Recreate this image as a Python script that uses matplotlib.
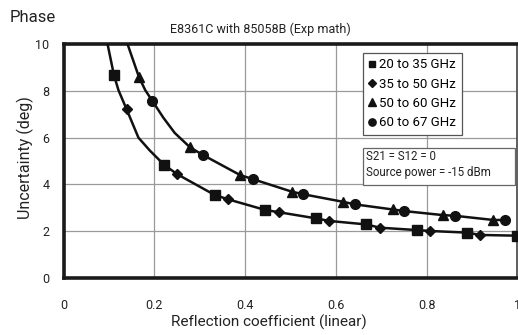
import matplotlib.pyplot as plt
from matplotlib.patches import Rectangle

plt.rcParams['font.family'] = ['Roboto', 'DejaVu Sans']

# markers
sq_x = [0.111, 0.222, 0.333, 0.444, 0.556, 0.667, 0.778, 0.889, 0.998]
sq_y = [8.68, 4.83, 3.55, 2.91, 2.55, 2.29, 2.05, 1.94, 1.81]
dm_x = [0.139, 0.251, 0.363, 0.475, 0.585, 0.697, 0.808, 0.918]
dm_y = [7.21, 4.43, 3.36, 2.81, 2.44, 2.15, 2.01, 1.84]
tr_x = [0.166, 0.279, 0.389, 0.503, 0.615, 0.725, 0.835, 0.947]
tr_y = [8.60, 5.58, 4.40, 3.69, 3.26, 2.93, 2.69, 2.48]
ci_x = [0.196, 0.307, 0.418, 0.528, 0.641, 0.751, 0.862, 0.972]
ci_y = [7.56, 5.26, 4.22, 3.58, 3.15, 2.86, 2.66, 2.48]

# extra points read along the steep part of the curves
low_x = [0.093, 0.097, 0.121, 0.165, 0.190]
low_y = [10.5, 10.0, 8.03, 6.0, 5.45]
up_x = [0.137, 0.141, 0.180, 0.220, 0.245]
up_y = [10.5, 10.0, 8.03, 6.85, 6.2]

labels = ['20 to 35 GHz', '35 to 50 GHz', '50 to 60 GHz', '60 to 67 GHz']
note = ['S21 = S12 = 0', 'Source power = -15 dBm']

fig = plt.figure(figsize=(5.18, 3.35), dpi=100)
ax = fig.add_axes([0.1226, 0.1701, 0.8764, 0.6985])

low = sorted(list(zip(sq_x, sq_y)) + list(zip(dm_x, dm_y)) + list(zip(low_x, low_y)))
up = sorted(list(zip(tr_x, tr_y)) + list(zip(ci_x, ci_y)) + list(zip(up_x, up_y)))
ax.plot(*zip(*low), color='#111111', lw=1.8, zorder=3, solid_joinstyle='round')
ax.plot(*zip(*up), color='#111111', lw=1.8, zorder=3, solid_joinstyle='round')

ax.plot(sq_x, sq_y, 's', color='#111111', ms=6.7, ls='', label=labels[0], zorder=4)
ax.plot(dm_x, dm_y, 'D', color='#111111', ms=5.2, ls='', label=labels[1], zorder=4)
ax.plot(tr_x, tr_y, '^', color='#111111', ms=7.2, ls='', label=labels[2], zorder=4)
ax.plot(ci_x, ci_y, 'o', color='#111111', ms=7, ls='', label=labels[3], zorder=4)

ax.set_xlim(0, 1)
ax.set_ylim(0, 10)
ax.set_xticks([0, 0.2, 0.4, 0.6, 0.8, 1])
ax.set_xticklabels(['0', '0.2', '0.4', '0.6', '0.8', '1'])
ax.set_yticks([0, 2, 4, 6, 8, 10])
ax.grid(True, color='#9a9a9a', lw=0.9)
ax.tick_params(length=0, labelsize=9, colors='#222222')
ax.tick_params(axis='x', pad=15)
ax.tick_params(axis='y', pad=10)
for s in ax.spines.values():
    s.set_linewidth(2.6)
    s.set_color('#1a1a1a')
ax.spines['right'].set_linewidth(1.2)
ax.spines['right'].set_color('#444444')

ax.set_xlabel('Reflection coefficient (linear)', fontsize=11, color='#222222', va='center')
ax.xaxis.set_label_coords(0.4526, -0.188)
ax.set_ylabel('Uncertainty (deg)', fontsize=11.5, color='#222222', va='center')
ax.yaxis.set_label_coords(-0.0848, 0.515)

leg = ax.legend(loc='upper left', bbox_to_anchor=(0.6597, 0.963), fontsize=9.5,
                frameon=True, fancybox=False, edgecolor='#555555', framealpha=1,
                handlelength=0.6, handletextpad=0.2, borderpad=0.42, labelspacing=0.48,
                markerscale=0.75, borderaxespad=0)
leg.get_frame().set_linewidth(0.9)

ax.add_patch(Rectangle((0.6597, 0.397), 0.335, 0.1586, transform=ax.transAxes,
                       fc='white', ec='#666666', lw=0.9, zorder=5))
ax.text(0.666, 0.521, note[0], transform=ax.transAxes, fontsize=8.3,
        color='#222222', va='center', ha='left', zorder=6)
ax.text(0.666, 0.452, note[1], transform=ax.transAxes, fontsize=8.3,
        color='#222222', va='center', ha='left', zorder=6)

fig.text(0.0193, 0.934, 'Phase', fontsize=12, color='#222222', va='baseline')
fig.text(0.502, 0.913, 'E8361C with 85058B (Exp math)', fontsize=9, color='#222222',
         ha='center', va='center')

fig.savefig('out.png', dpi=100)
